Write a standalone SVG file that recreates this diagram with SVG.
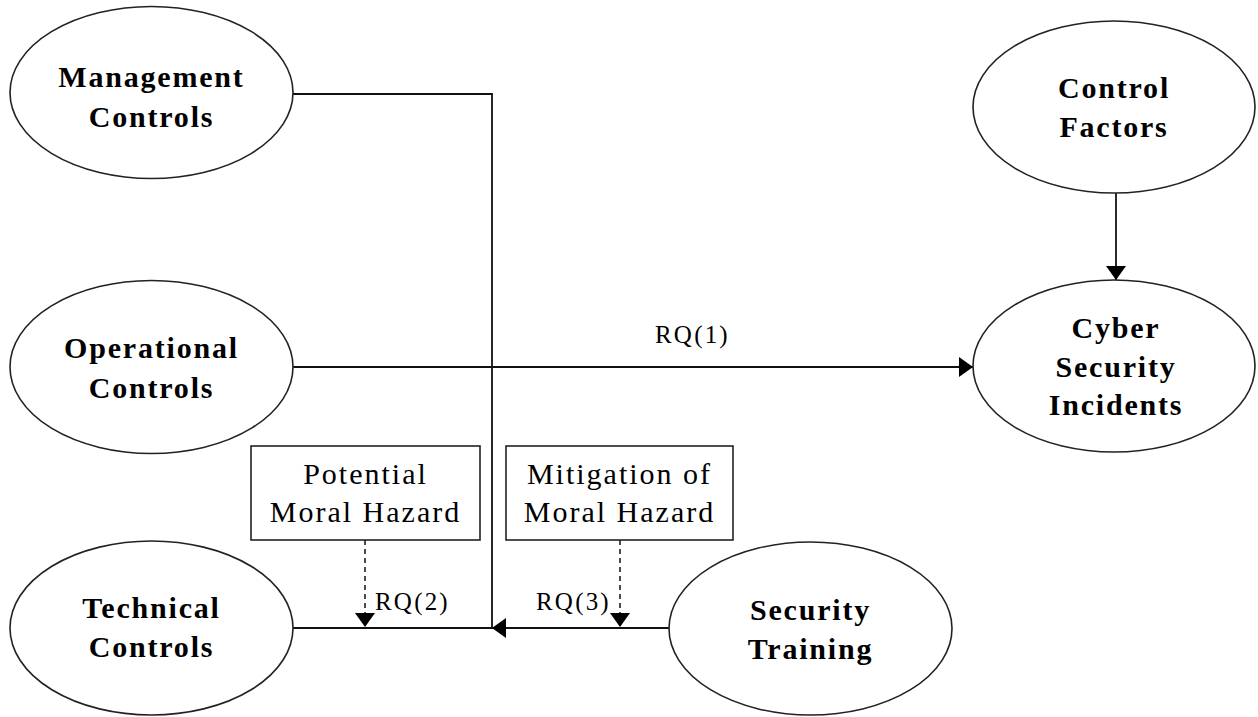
<svg xmlns="http://www.w3.org/2000/svg" width="1258" height="717" viewBox="0 0 1258 717">
<style>
.node ellipse{fill:#fff;stroke:#222;stroke-width:1.6}
.box rect{fill:#fff;stroke:#222;stroke-width:1.6}
.nl{font-family:"Liberation Serif","Times New Roman",serif;font-weight:bold;font-size:30px;letter-spacing:1.8px;text-anchor:middle;fill:#000}
.bl{font-family:"Liberation Serif","Times New Roman",serif;font-size:30px;letter-spacing:2px;text-anchor:middle;fill:#000}
.rq{font-family:"Liberation Serif","Times New Roman",serif;font-size:25px;letter-spacing:2.2px;fill:#000}
.conn line,.conn polyline{stroke:#111;stroke-width:1.8;fill:none}
.conn .dash{stroke-dasharray:5 4;stroke-width:1.5}
</style>
<defs>
<marker id="ah" viewBox="0 0 14 20" refX="14" refY="10" markerWidth="14" markerHeight="20" markerUnits="userSpaceOnUse" orient="auto">
<path d="M0,0 L14,10 L0,20 Z" fill="#000"/>
</marker>
</defs>
<rect width="1258" height="717" fill="#fff"/>
<g class="conn">
<polyline points="293,94 492,94 492,628"/>
<line x1="293" y1="367" x2="973" y2="367" marker-end="url(#ah)"/>
<line x1="1116" y1="193" x2="1116" y2="280" marker-end="url(#ah)"/>
<line x1="293" y1="628" x2="492" y2="628"/>
<line x1="669" y1="628" x2="492" y2="628" marker-end="url(#ah)"/>
<line class="dash" x1="365" y1="540" x2="365" y2="627" marker-end="url(#ah)"/>
<line class="dash" x1="620" y1="540" x2="620" y2="627" marker-end="url(#ah)"/>
<text class="rq" x="655" y="343">RQ(1)</text>
<text class="rq" x="375" y="610">RQ(2)</text>
<text class="rq" x="536" y="610">RQ(3)</text>
</g>
<g id="management" class="node">
<ellipse cx="151.5" cy="92.5" rx="141.5" ry="86"/>
<text class="nl" x="151.5" y="87">Management</text>
<text class="nl" x="151.5" y="127">Controls</text>
</g>
<g id="operational" class="node">
<ellipse cx="151.5" cy="367" rx="141.5" ry="86.5"/>
<text class="nl" x="151.5" y="358">Operational</text>
<text class="nl" x="151.5" y="398">Controls</text>
</g>
<g id="technical" class="node">
<ellipse cx="151.5" cy="628" rx="141.5" ry="87"/>
<text class="nl" x="151.5" y="618">Technical</text>
<text class="nl" x="151.5" y="657">Controls</text>
</g>
<g id="control-factors" class="node">
<ellipse cx="1114" cy="107" rx="141" ry="86"/>
<text class="nl" x="1114" y="98">Control</text>
<text class="nl" x="1114" y="137">Factors</text>
</g>
<g id="incidents" class="node">
<ellipse cx="1114" cy="366" rx="141" ry="86"/>
<text class="nl" x="1116" y="338">Cyber</text>
<text class="nl" x="1116" y="377">Security</text>
<text class="nl" x="1116" y="415">Incidents</text>
</g>
<g id="training" class="node">
<ellipse cx="810.5" cy="628.5" rx="141.5" ry="86.5"/>
<text class="nl" x="810.5" y="620">Security</text>
<text class="nl" x="810.5" y="659">Training</text>
</g>
<g id="potential" class="box">
<rect x="251" y="446" width="229" height="94"/>
<text class="bl" x="365.5" y="484">Potential</text>
<text class="bl" x="365.5" y="522">Moral Hazard</text>
</g>
<g id="mitigation" class="box">
<rect x="506" y="446" width="227" height="94"/>
<text class="bl" x="619.5" y="484">Mitigation of</text>
<text class="bl" x="619.5" y="522">Moral Hazard</text>
</g>
</svg>
